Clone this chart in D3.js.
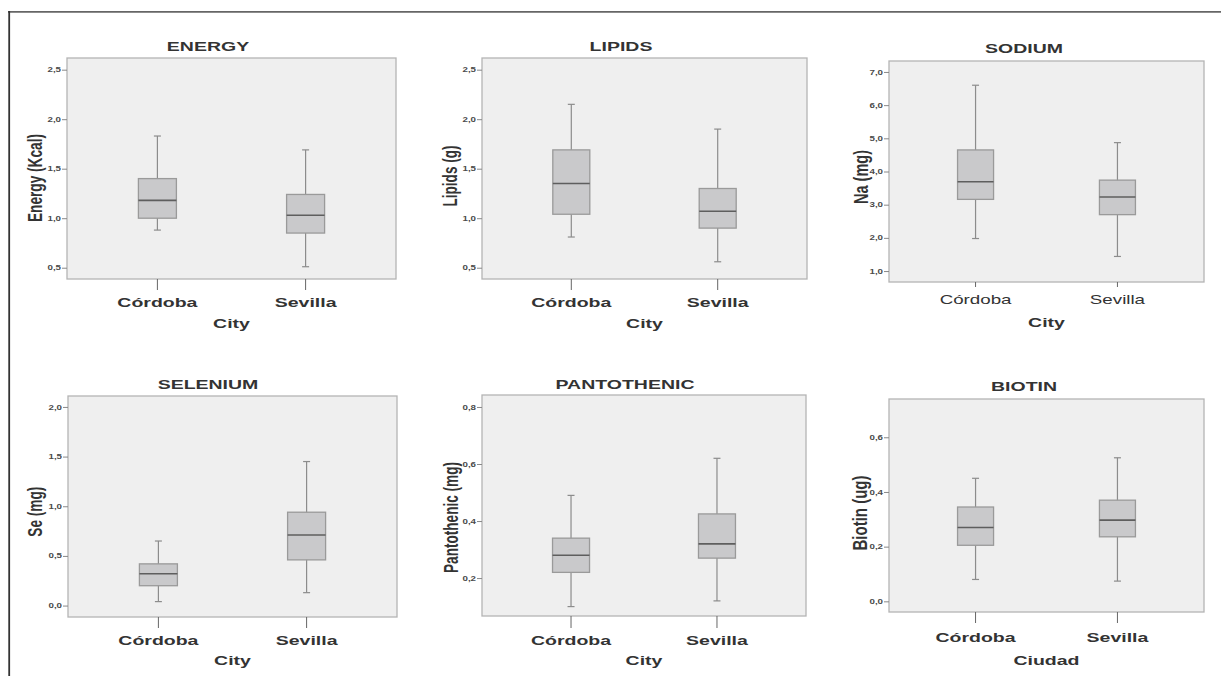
<!DOCTYPE html>
<html>
<head>
<meta charset="utf-8">
<script src="https://cdn.jsdelivr.net/npm/d3@7"></script>
<style>
  body { margin: 0; background: #fff; }
  svg { display: block; font-family: "Liberation Sans", Arial, sans-serif; }
</style>
</head>
<body>
<script>
(function(){

    //data: [lower whisker, Q1, median, Q3, upper whisker] per city
    var cities = ["Córdoba", "Sevilla"];
    var titles = ["ENERGY", "LIPIDS", "SODIUM", "SELENIUM", "PANTOTHENIC", "BIOTIN"];
    var yLabels = ["Energy (Kcal)", "Lipids (g)", "Na (mg)", "Se (mg)", "Pantothenic (mg)", "Biotin (ug)"];
    var xLabels = ["City", "City", "City", "City", "City", "Ciudad"];

    var energy      = [[0.88, 1.00, 1.18, 1.40, 1.83], [0.51, 0.85, 1.03, 1.24, 1.69]];
    var lipids      = [[0.81, 1.04, 1.35, 1.69, 2.15], [0.56, 0.90, 1.07, 1.30, 1.90]];
    var sodium      = [[1.98, 3.16, 3.69, 4.65, 6.60], [1.44, 2.70, 3.23, 3.74, 4.87]];
    var selenium    = [[0.04, 0.20, 0.32, 0.42, 0.65], [0.13, 0.46, 0.71, 0.94, 1.45]];
    var pantothenic = [[0.10, 0.22, 0.28, 0.34, 0.49], [0.12, 0.27, 0.32, 0.425, 0.62]];
    var biotin      = [[0.08, 0.205, 0.27, 0.345, 0.45], [0.074, 0.236, 0.297, 0.37, 0.525]];
    var series = [energy, lipids, sodium, selenium, pantothenic, biotin];

    //tick values and axis extents
    var yTicks = [
        [0.5, 1.0, 1.5, 2.0, 2.5],
        [0.5, 1.0, 1.5, 2.0, 2.5],
        [1, 2, 3, 4, 5, 6, 7],
        [0.0, 0.5, 1.0, 1.5, 2.0],
        [0.2, 0.4, 0.6, 0.8],
        [0.0, 0.2, 0.4, 0.6]
    ];
    var yDomains = [
        [0.386, 2.618],
        [0.386, 2.618],
        [0.67, 7.33],
        [-0.115, 2.11],
        [0.067, 0.842],
        [-0.039, 0.74]
    ];

    //panel layout (plot rect, title, labels); yl = [x, y, length] of the rotated label
    var layout = [
        {x: 67,  y: 58,  w: 329, h: 221, tx: 208,  ty: 51,  yl: [35.5, 178, 88], cb: 307, xb: 327.5, bw: 38, catTick: 11, catBold: true},
        {x: 482, y: 58,  w: 325, h: 221, tx: 621,  ty: 51,  yl: [450.5, 176, 61], cb: 307, xb: 327.5, bw: 37, catTick: 11, catBold: true},
        {x: 889, y: 61,  w: 315, h: 221, tx: 1024, ty: 53,  yl: [861.5, 177, 54], cb: 303.5, xb: 327, bw: 36, catTick: 5, catBold: false},
        {x: 68,  y: 396, w: 329, h: 221, tx: 208,  ty: 389, yl: [34.7, 511.7, 50], cb: 644.5, xb: 664.5, bw: 38, catTick: 11, catBold: true},
        {x: 482, y: 395, w: 324, h: 221, tx: 625,  ty: 388.5, yl: [451.5, 517.5, 111], cb: 645, xb: 665, bw: 37, catTick: 12, catBold: true},
        {x: 889, y: 399, w: 315, h: 213, tx: 1024, ty: 391, yl: [859.7, 513, 75], cb: 641.5, xb: 664.5, bw: 36, catTick: 11, catBold: true}
    ];

    var stretch = 1.5;
    var locale = d3.formatLocale({decimal: ",", thousands: ".", grouping: [3], currency: ["", "€"]});
    var fmt = locale.format(".1f");

    var width = 1221, height = 676;

    var svg = d3.select("body")
        .append("svg")
        .attr("width", width)
        .attr("height", height);

    //outer frame (top and left rules)
    svg.append("line")
        .attr("x1", 8).attr("x2", width)
        .attr("y1", 11.8).attr("y2", 11.8)
        .attr("stroke", "#666").attr("stroke-width", 1.8);
    svg.append("line")
        .attr("x1", 9.2).attr("x2", 9.2)
        .attr("y1", 11).attr("y2", height)
        .attr("stroke", "#333").attr("stroke-width", 1.8);

    layout.forEach(function(p, i){
        drawPanel(p, i);
    });

    function drawPanel(p, i){
        var data = series[i];

        var x = d3.scalePoint()
            .domain(cities)
            .range([p.x, p.x + p.w])
            .padding(0.61);

        var y = d3.scaleLinear()
            .domain(yDomains[i])
            .range([p.y + p.h, p.y]);

        var g = svg.append("g").attr("class", "panel");

        //plot background
        g.append("rect")
            .attr("x", p.x)
            .attr("y", p.y)
            .attr("width", p.w)
            .attr("height", p.h)
            .attr("fill", "#efefef")
            .attr("stroke", "#b4b4b4")
            .attr("stroke-width", 1.3);

        //y axis
        var yAxis = d3.axisLeft(y)
            .tickValues(yTicks[i])
            .tickSize(5)
            .tickFormat(fmt);

        var axis = g.append("g")
            .attr("transform", "translate(" + p.x + ",0)")
            .call(yAxis);
        axis.select(".domain").remove();
        axis.selectAll(".tick line")
            .attr("stroke", "#888");
        axis.selectAll(".tick text")
            .attr("x", 0)
            .attr("dy", "0.32em")
            .attr("transform", "translate(-6,0) scale(" + stretch + ",1)")
            .attr("fill", "#4a4a4a")
            .style("font-size", "6.5px")
            .style("font-weight", "bold");

        //category ticks and labels
        g.selectAll(".catTick")
            .data(cities)
            .enter()
            .append("line")
            .attr("class", "catTick")
            .attr("x1", function(d){ return x(d); })
            .attr("x2", function(d){ return x(d); })
            .attr("y1", p.y + p.h)
            .attr("y2", p.y + p.h + p.catTick)
            .attr("stroke", "#666");

        g.selectAll(".catLabel")
            .data(cities)
            .enter()
            .append("text")
            .attr("class", "catLabel")
            .attr("transform", function(d){
                return "translate(" + x(d) + "," + p.cb + ") scale(" + stretch + ",1)";
            })
            .attr("text-anchor", "middle")
            .attr("fill", "#333")
            .style("font-size", p.catBold ? "13px" : "12.5px")
            .style("font-weight", p.catBold ? "bold" : "normal")
            .text(function(d){ return d; });

        //x axis title
        g.append("text")
            .attr("transform", "translate(" + (p.x + p.w / 2) + "," + p.xb + ") scale(" + stretch + ",1)")
            .attr("text-anchor", "middle")
            .attr("fill", "#333")
            .style("font-size", "13px")
            .style("font-weight", "bold")
            .text(xLabels[i]);

        //panel title
        g.append("text")
            .attr("transform", "translate(" + p.tx + "," + p.ty + ") scale(" + stretch + ",1)")
            .attr("text-anchor", "middle")
            .attr("fill", "#333")
            .style("font-size", "13px")
            .style("font-weight", "bold")
            .text(titles[i]);

        //y axis title
        g.append("text")
            .attr("transform", "translate(" + p.yl[0] + "," + p.yl[1] + ") scale(1.35,1) rotate(-90)")
            .attr("text-anchor", "middle")
            .attr("dominant-baseline", "central")
            .attr("textLength", p.yl[2])
            .attr("lengthAdjust", "spacingAndGlyphs")
            .attr("fill", "#333")
            .style("font-size", "14.5px")
            .style("font-weight", "bold")
            .text(yLabels[i]);

        //boxes
        var boxes = g.selectAll(".box")
            .data(data)
            .enter()
            .append("g")
            .attr("class", "box");

        boxes.append("line")
            .attr("x1", function(d, j){ return x(cities[j]); })
            .attr("x2", function(d, j){ return x(cities[j]); })
            .attr("y1", function(d){ return y(d[0]); })
            .attr("y2", function(d){ return y(d[4]); })
            .attr("stroke", "#8c8c8c")
            .attr("stroke-width", 1.2);

        boxes.selectAll(".cap")
            .data(function(d, j){ return [[j, d[0]], [j, d[4]]]; })
            .enter()
            .append("line")
            .attr("class", "cap")
            .attr("x1", function(d){ return x(cities[d[0]]) - 3.5; })
            .attr("x2", function(d){ return x(cities[d[0]]) + 3.5; })
            .attr("y1", function(d){ return y(d[1]); })
            .attr("y2", function(d){ return y(d[1]); })
            .attr("stroke", "#8c8c8c")
            .attr("stroke-width", 1.2);

        boxes.append("rect")
            .attr("x", function(d, j){ return x(cities[j]) - p.bw / 2; })
            .attr("width", p.bw)
            .attr("y", function(d){ return y(d[3]); })
            .attr("height", function(d){ return y(d[1]) - y(d[3]); })
            .attr("fill", "#c9c9cb")
            .attr("stroke", "#9a9a9a")
            .attr("stroke-width", 1.3);

        boxes.append("line")
            .attr("x1", function(d, j){ return x(cities[j]) - p.bw / 2; })
            .attr("x2", function(d, j){ return x(cities[j]) + p.bw / 2; })
            .attr("y1", function(d){ return y(d[2]); })
            .attr("y2", function(d){ return y(d[2]); })
            .attr("stroke", "#5e5e5e")
            .attr("stroke-width", 1.6);
    };

})();
</script>
</body>
</html>
